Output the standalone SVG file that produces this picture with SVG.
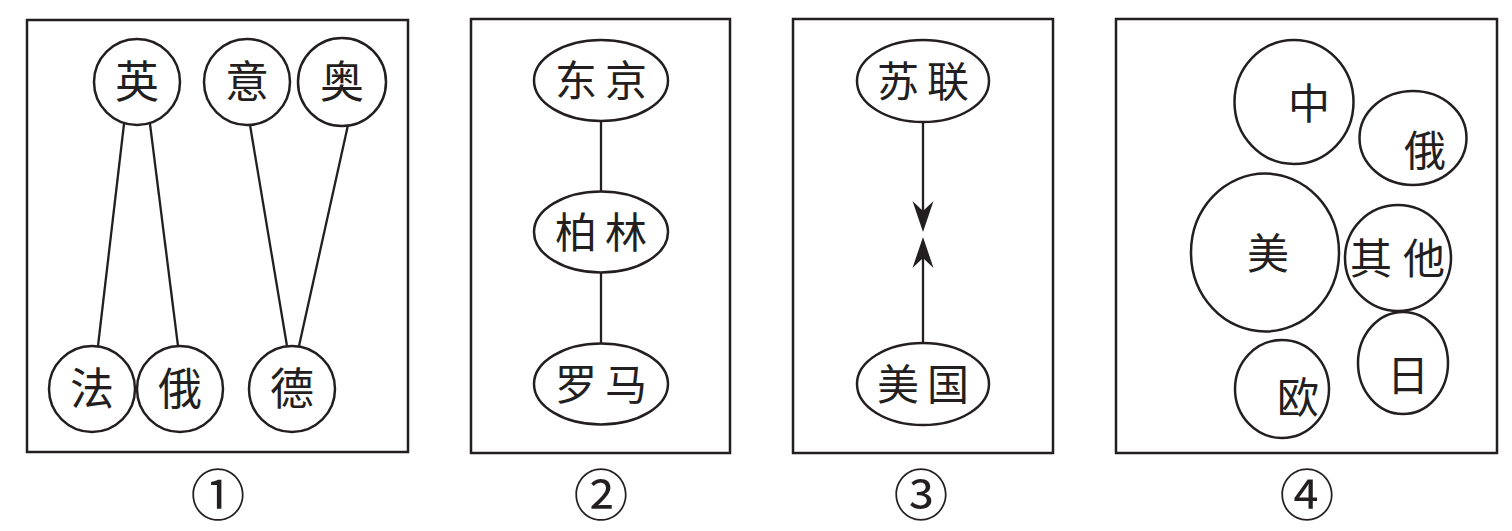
<svg xmlns="http://www.w3.org/2000/svg" width="1512" height="531" viewBox="0 0 1512 531">
<style>
.frame{fill:none;stroke:#231f20;stroke-width:2.5}
.node{fill:#fff;stroke:#231f20;stroke-width:2.5}
.edge{fill:none;stroke:#231f20;stroke-width:2.3}
.head{fill:#231f20;stroke:none}
.t{font-family:"Noto Sans CJK SC","Noto Sans CJK JP",sans-serif;font-size:42px;fill:#231f20;text-anchor:middle}
.num{font-family:"Noto Sans CJK SC","DejaVu Serif",serif;font-size:55px;fill:#231f20;text-anchor:middle}
</style>
<rect width="1512" height="531" fill="#fff"/>
<g id="frames">
<rect class="frame" x="27" y="20" width="381" height="432"/>
<rect class="frame" x="471" y="19" width="259" height="434"/>
<rect class="frame" x="793" y="19" width="260" height="434"/>
<rect class="frame" x="1116" y="19" width="381" height="434"/>
</g>
<g id="connectors">
<line class="edge" x1="124" y1="124" x2="98" y2="346"/>
<line class="edge" x1="150" y1="124" x2="178" y2="346"/>
<line class="edge" x1="250" y1="125" x2="287" y2="346"/>
<line class="edge" x1="348" y1="125" x2="299" y2="346"/>
<line class="edge" x1="601" y1="121" x2="601" y2="192"/>
<line class="edge" x1="601" y1="272" x2="601" y2="344"/>
<line class="edge" x1="923" y1="122" x2="923" y2="212"/>
<path class="head" d="M923,232 L912.5,201 L923,211 L933.5,201 Z"/>
<line class="edge" x1="923" y1="258" x2="923" y2="344"/>
<path class="head" d="M923,237 L912.5,268 L923,258 L933.5,268 Z"/>
</g>
<g id="p1-ying"><circle class="node" cx="137" cy="82" r="43"/><text class="t" x="137" y="98" style="font-size:44px">英</text></g>
<g id="p1-yi"><circle class="node" cx="247" cy="82" r="43"/><text class="t" x="247" y="98" style="font-size:44px">意</text></g>
<g id="p1-ao"><circle class="node" cx="342" cy="82" r="44"/><text class="t" x="342" y="98" style="font-size:44px">奥</text></g>
<g id="p1-fa"><circle class="node" cx="92" cy="389" r="43"/><text class="t" x="92" y="405" style="font-size:44px">法</text></g>
<g id="p1-e"><circle class="node" cx="180" cy="389" r="43"/><text class="t" x="180" y="405" style="font-size:44px">俄</text></g>
<g id="p1-de"><circle class="node" cx="292" cy="389" r="43"/><text class="t" x="292" y="405" style="font-size:44px">德</text></g>
<g id="p2-tokyo"><ellipse class="node" cx="601" cy="80.5" rx="67" ry="40.5"/><text class="t" x="605" y="96" style="letter-spacing:8px">东京</text></g>
<g id="p2-berlin"><ellipse class="node" cx="601" cy="232" rx="67" ry="40.5"/><text class="t" x="605" y="248" style="letter-spacing:8px">柏林</text></g>
<g id="p2-rome"><ellipse class="node" cx="601" cy="384" rx="67" ry="40.5"/><text class="t" x="605" y="400" style="letter-spacing:8px">罗马</text></g>
<g id="p3-ussr"><ellipse class="node" cx="923" cy="81" rx="66" ry="41"/><text class="t" x="927" y="97" style="letter-spacing:8px">苏联</text></g>
<g id="p3-usa"><ellipse class="node" cx="923" cy="384" rx="66" ry="41"/><text class="t" x="927" y="400" style="letter-spacing:8px">美国</text></g>
<g id="p4-zhong"><ellipse class="node" cx="1294" cy="102" rx="59.5" ry="62"/><text class="t" x="1309" y="119">中</text></g>
<g id="p4-e"><ellipse class="node" cx="1413" cy="138" rx="53.5" ry="47"/><text class="t" x="1425" y="166">俄</text></g>
<g id="p4-mei"><ellipse class="node" cx="1265" cy="252.5" rx="74" ry="79"/><text class="t" x="1268" y="269">美</text></g>
<g id="p4-qita"><ellipse class="node" cx="1398" cy="258" rx="53" ry="53"/><text class="t" x="1403" y="274" style="letter-spacing:11px">其他</text></g>
<g id="p4-ri"><ellipse class="node" cx="1403" cy="363" rx="45" ry="51"/><text class="t" x="1408" y="391">日</text></g>
<g id="p4-ou"><ellipse class="node" cx="1282" cy="389" rx="47" ry="49"/><text class="t" x="1298" y="413">欧</text></g>
<g id="labels">
<text class="num" x="218" y="515">①</text>
<text class="num" x="601" y="515">②</text>
<text class="num" x="921" y="515">③</text>
<text class="num" x="1307" y="515">④</text>
</g>
</svg>
